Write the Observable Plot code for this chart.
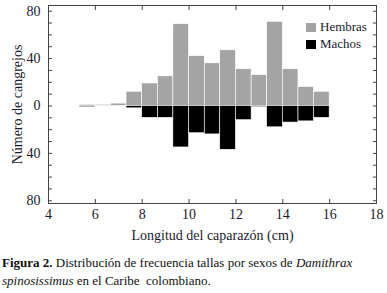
<!DOCTYPE html>
<html>
<head>
<meta charset="utf-8">
<script src="https://cdn.jsdelivr.net/npm/d3@7"></script>
<script src="https://cdn.jsdelivr.net/npm/@observablehq/plot@0.6"></script>
<style>
  body { margin: 0; background: white; }
  #wrap { position: relative; width: 387px; }
  .legend { position: absolute; font-family: 'Liberation Serif', 'Times New Roman', 'DejaVu Serif', serif; font-size: 13px; color: #1a1a2e; display: flex; align-items: center; white-space: nowrap; }
  .legend span.sw { display: inline-block; width: 10px; height: 9px; margin-right: 4px; }
  #caption { font-family: 'Liberation Serif', 'Times New Roman', 'DejaVu Serif', serif; font-size: 13px; line-height: 18px; color: #111; margin: 9px 0 0 2px; }
</style>
</head>
<body>
<div id="wrap">
  <div id="chart"></div>
  <div class="legend" style="left:306px; top:19px;"><span class="sw" style="background:#a4a4a4"></span>Hembras</div>
  <div class="legend" style="left:306px; top:36px;"><span class="sw" style="background:#000"></span>Machos</div>
  <div id="caption"><b>Figura 2.</b> Distribución de frecuencia tallas por sexos de <i>Damithrax spinosissimus</i> en el Caribe&nbsp; colombiano.</div>
</div>
<script>
// Bin edges (cm), carapace length classes
const binEdges = [5.33, 6.0, 6.67, 7.33, 8.0, 8.67, 9.33, 10.0, 10.67, 11.33, 12.0, 12.67, 13.33, 14.0, 14.67, 15.33, 16.0];
// Counts per bin
const hembras = [1, 1, 2, 12, 19, 25, 69, 42, 36, 47, 31, 26, 71, 31, 16, 12];
const machos  = [1, 0, 0, 2, 10, 10, 35, 23, 24, 37, 12, 1, 18, 14, 13, 10];
// Tick values
const xTicks = [4, 6, 8, 10, 12, 14, 16, 18];
const yLabelTicks = [-80, -40, 0, 40, 80];
const yMinorTicks = [-80, -70, -60, -50, -40, -30, -20, -10, 0, 10, 20, 30, 40, 50, 60, 70, 80];

const rows = hembras.map((h, i) => ({x1: binEdges[i], x2: binEdges[i + 1], h, m: machos[i]}));

const chart = Plot.plot({
  width: 387,
  height: 245,
  marginTop: 5,
  marginBottom: 42,
  marginLeft: 48,
  marginRight: 11,
  style: {fontFamily: "'Liberation Serif', 'Times New Roman', 'DejaVu Serif', serif", fontSize: "14px", color: "#1a1a2e", background: "white"},
  x: {domain: [4, 18]},
  y: {domain: [-82.3, 84.8]},
  marks: [
    Plot.rect(rows, {x1: "x1", x2: "x2", y1: 0, y2: "h", fill: "#a4a4a4", stroke: "white", strokeWidth: 0.6}),
    Plot.rect(rows, {x1: "x1", x2: "x2", y1: 0, y2: d => -d.m, fill: "black", stroke: "white", strokeWidth: 0.6}),
    Plot.frame({stroke: "#444"}),
    Plot.axisY(yMinorTicks, {anchor: "left", tickSize: 4, dx: 4, tickFormat: () => "", label: null, stroke: "#444"}),
    Plot.axisY(yMinorTicks, {anchor: "right", tickSize: 4, dx: -4, tickFormat: () => "", label: null, stroke: "#444"}),
    Plot.axisY(yLabelTicks, {anchor: "left", tickSize: 0, tickPadding: 8, tickFormat: d => Math.abs(d),
      label: "Número de cangrejos", labelAnchor: "center", labelArrow: "none", labelOffset: 36}),
    Plot.axisX(xTicks, {anchor: "bottom", tickSize: 4, dy: -4, tickFormat: () => "", label: null, stroke: "#444"}),
    Plot.axisX(xTicks, {anchor: "top", tickSize: 4, dy: 4, tickFormat: () => "", label: null, stroke: "#444"}),
    Plot.axisX(xTicks, {anchor: "bottom", tickSize: 0, tickPadding: 6, tickFormat: d => d,
      label: "Longitud del caparazón (cm)", labelAnchor: "center", labelArrow: "none", labelOffset: 36})
  ]
});
document.getElementById("chart").appendChild(chart);
</script>
</body>
</html>
